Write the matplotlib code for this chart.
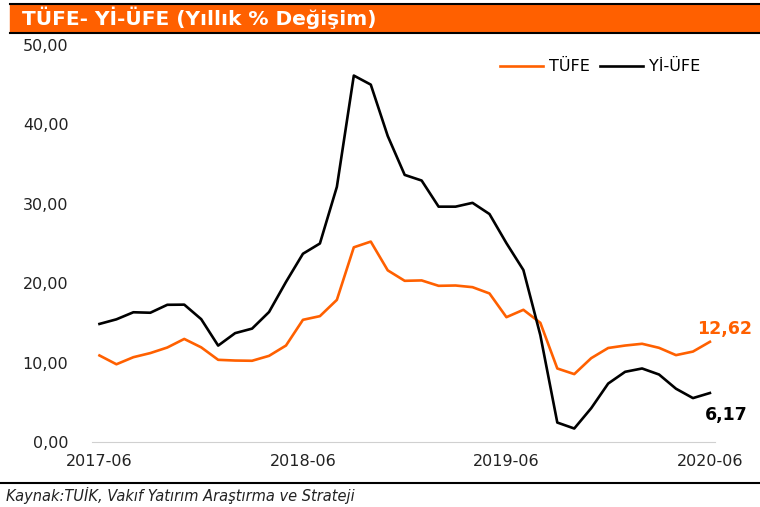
import matplotlib
matplotlib.use("Agg")
import matplotlib.pyplot as plt
import numpy as np

months = ["2017-06", "2017-07", "2017-08", "2017-09", "2017-10", "2017-11", "2017-12",
          "2018-01", "2018-02", "2018-03", "2018-04", "2018-05", "2018-06", "2018-07",
          "2018-08", "2018-09", "2018-10", "2018-11", "2018-12", "2019-01", "2019-02",
          "2019-03", "2019-04", "2019-05", "2019-06", "2019-07", "2019-08", "2019-09",
          "2019-10", "2019-11", "2019-12", "2020-01", "2020-02", "2020-03", "2020-04",
          "2020-05", "2020-06"]
tufe = [10.90, 9.79, 10.68, 11.20, 11.90, 12.98, 11.92, 10.35, 10.26, 10.23, 10.85,
        12.15, 15.39, 15.85, 17.90, 24.52, 25.24, 21.62, 20.30, 20.35, 19.67, 19.71,
        19.50, 18.71, 15.72, 16.65, 15.01, 9.26, 8.55, 10.56, 11.84, 12.15, 12.37,
        11.86, 10.94, 11.39, 12.62]
yiufe = [14.87, 15.45, 16.34, 16.28, 17.28, 17.30, 15.47, 12.14, 13.71, 14.28, 16.37,
         20.16, 23.71, 25.00, 32.13, 46.15, 45.01, 38.54, 33.64, 32.93, 29.64, 29.64,
         30.12, 28.71, 25.04, 21.66, 13.45, 2.45, 1.70, 4.26, 7.36, 8.84, 9.26, 8.50,
         6.71, 5.53, 6.17]
yticks = [0, 10, 20, 30, 40, 50]
xtick_labels = ["2017-06", "2018-06", "2019-06", "2020-06"]

orange = "#FF6000"
W, H = 760, 507

fig = plt.figure(figsize=(7.6, 5.07), dpi=100)
ax = fig.add_axes([92 / W, 1 - 442 / H, (715 - 92) / W, (442 - 45) / H])

x = np.arange(len(months))
ax.plot(x, tufe, color=orange, lw=1.9, label="TÜFE")
ax.plot(x, yiufe, color="black", lw=1.9, label="Yİ-ÜFE")

ax.set_xlim(-0.44, 36.3)
ax.set_ylim(0, 50)
ax.set_yticks(yticks)
ax.set_yticklabels([f"{v:.2f}".replace(".", ",") for v in yticks],
                   fontsize=11.5, color="#222222")
ax.set_xticks([months.index(m) for m in xtick_labels])
ax.set_xticklabels(xtick_labels, fontsize=11.5, color="#222222")
ax.tick_params(length=0, axis="y", pad=17)
ax.tick_params(length=0, axis="x", pad=9)
for s in ["top", "right", "left"]:
    ax.spines[s].set_visible(False)
ax.spines["bottom"].set_color("#d0d0d0")

leg = ax.legend(loc="upper right", bbox_to_anchor=(1.0, 1.0), ncol=2, frameon=False,
                fontsize=11.5, handlelength=2.7, columnspacing=0.6, handletextpad=0.4)

# end-value labels (offsets in points from the last data point)
ax.annotate(f"{tufe[-1]:.2f}".replace(".", ","), (x[-1], tufe[-1]),
            xytext=(30, 9), textcoords="offset points", ha="right", va="center",
            color=orange, fontsize=12.5, fontweight="bold")
ax.annotate(f"{yiufe[-1]:.2f}".replace(".", ","), (x[-1], yiufe[-1]),
            xytext=(27, -16), textcoords="offset points", ha="right", va="center",
            color="black", fontsize=12.5, fontweight="bold")

# title bar
fig.patches.append(plt.Rectangle((10 / W, 1 - 32 / H), 750 / W, 28 / H,
                                 transform=fig.transFigure, color=orange, zorder=0))
fig.add_artist(plt.Line2D([10 / W, 1], [1 - 4 / H] * 2, color="black", lw=1.5))
fig.add_artist(plt.Line2D([10 / W, 1], [1 - 33 / H] * 2, color="black", lw=1.5))
fig.text(22 / W, 1 - 18 / H, "TÜFE- Yİ-ÜFE (Yıllık % Değişim)", color="white",
         fontsize=14.5, fontweight="bold", va="center", ha="left")

# source line
fig.add_artist(plt.Line2D([0, 1], [1 - 483 / H] * 2, color="black", lw=1.5))
fig.text(6 / W, 1 - 495 / H, "Kaynak:TUİK, Vakıf Yatırım Araştırma ve Strateji",
         fontsize=10.5, style="italic", va="center", ha="left", color="#222222")

fig.savefig("out.png", dpi=100)
